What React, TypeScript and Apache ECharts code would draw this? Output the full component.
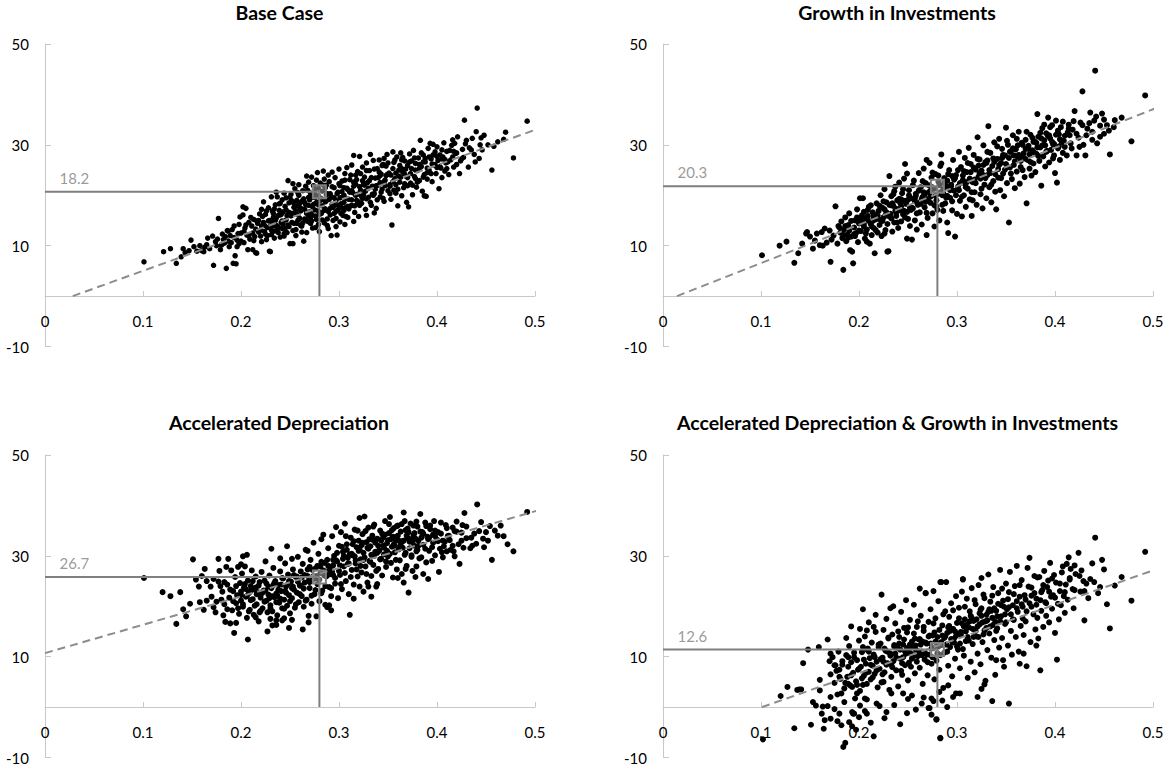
import React, { useEffect, useRef } from "react";
import * as echarts from "echarts";

const xTicks = [0, 0.1, 0.2, 0.3, 0.4, 0.5];
const yTicks = [-10, 10, 30, 50];
const titles = [
  "Base Case",
  "Growth in Investments",
  "Accelerated Depreciation",
  "Accelerated Depreciation & Growth in Investments",
];
const refX = 0.28;
const refLevels = [20.7, 21.8, 25.8, 11.4];
const refLabels = ["18.2", "20.3", "26.7", "12.6"];
const trendBase = [[0.0283, 0], [0.509, 33.6]];
const trendGrowth = [[0.0143, 0], [0.523, 38.8]];
const trendAccel = [[0, 10.7], [0.526, 40.3]];
const trendBoth = [[0.101, 0], [0.5235, 28.7]];

const baseCase = [
  [0.101,6.8],[0.121,8.8],[0.128,9.4],[0.134,6.5],[0.139,7.8],[0.141,9.4],[0.143,8.6],[0.149,11.1],[0.147,9.0],
  [0.152,9.8],[0.155,8.9],[0.158,10.0],[0.160,9.0],[0.162,8.8],[0.165,10.2],[0.168,9.4],[0.166,11.5],[0.163,9.7],
  [0.172,6.1],[0.174,10.8],[0.177,15.4],[0.179,9.2],[0.171,11.9],[0.175,10.0],[0.181,12.3],[0.183,10.5],[0.185,5.5],[0.186,13.0],[0.189,12.0],[0.188,9.8],[0.182,11.2],[0.187,10.9],
  [0.192,6.5],[0.194,8.0],[0.195,6.4],[0.196,9.8],[0.191,13.2],[0.193,11.6],[0.197,12.4],[0.199,15.7],[0.200,10.9],[0.202,16.1],[0.202,17.7],[0.205,17.4],[0.207,9.2],[0.204,13.5],[0.206,12.1],[0.208,14.6],[0.209,11.3],[0.198,10.4],[0.203,12.8],
  [0.212,9.2],[0.215,8.6],[0.216,8.5],[0.211,13.9],[0.213,15.2],[0.214,11.8],[0.217,14.4],[0.218,12.7],[0.219,16.3],[0.220,13.1],[0.221,10.8],[0.222,15.8],[0.223,18.7],[0.224,14.0],[0.225,12.3],[0.226,16.9],[0.227,13.6],[0.228,17.5],[0.229,8.9],[0.230,8.8],[0.229,15.0],[0.212,12.5],[0.216,14.9],[0.221,17.2],[0.226,11.2],
  [0.231,19.7],[0.232,14.7],[0.233,16.4],[0.234,12.9],[0.235,18.1],[0.236,15.5],[0.237,19.7],[0.238,13.8],[0.239,17.0],[0.240,11.7],[0.241,16.2],[0.242,19.1],[0.243,14.3],[0.244,20.4],[0.245,17.8],[0.246,15.1],[0.247,12.6],[0.248,22.9],[0.249,18.5],[0.250,10.4],[0.231,12.2],[0.234,17.3],[0.238,16.0],[0.242,13.4],[0.246,19.5],[0.249,16.6],[0.236,20.6],[0.240,18.4],[0.244,11.9],[0.233,14.0],
  [0.251,20.2],[0.252,14.6],[0.253,10.4],[0.254,17.6],[0.255,21.3],[0.256,13.2],[0.257,19.0],[0.258,16.1],[0.259,22.1],[0.260,15.4],[0.261,18.6],[0.262,12.7],[0.263,20.9],[0.264,10.9],[0.265,17.2],[0.266,21.8],[0.267,23.8],[0.268,14.8],[0.269,19.6],[0.270,16.7],[0.252,18.9],[0.255,16.5],[0.258,20.5],[0.261,14.0],[0.264,19.3],[0.267,12.6],[0.269,22.6],[0.253,22.3],[0.256,12.0],[0.262,17.3],[0.266,15.2],[0.259,18.0],
  [0.271,20.4],[0.272,23.6],[0.273,13.5],[0.274,18.2],[0.275,21.1],[0.276,15.9],[0.277,23.0],[0.278,17.0],[0.279,19.9],[0.280,12.8],[0.281,22.4],[0.282,16.4],[0.283,20.8],[0.284,24.8],[0.285,14.5],[0.286,18.7],[0.287,22.0],[0.288,15.3],[0.289,24.0],[0.290,19.2],[0.272,16.2],[0.276,19.6],[0.279,14.2],[0.283,17.9],[0.286,21.5],[0.289,13.4],[0.274,21.9],[0.278,24.5],[0.281,19.0],[0.285,23.2],[0.288,20.3],[0.271,14.4],
  [0.292,12.0],[0.298,12.1],[0.291,17.4],[0.293,21.7],[0.294,15.0],[0.295,19.5],[0.296,23.5],[0.297,16.8],[0.299,20.6],[0.300,25.2],[0.301,14.7],[0.302,18.3],[0.303,22.8],[0.304,16.0],[0.305,20.0],[0.306,24.3],[0.307,17.6],[0.308,21.4],[0.309,15.6],[0.310,19.2],[0.293,24.6],[0.297,13.8],[0.301,21.9],[0.305,17.0],[0.308,25.5],[0.295,18.1],[0.303,19.6],[0.306,14.2],
  [0.311,23.1],[0.312,17.9],[0.313,26.0],[0.314,20.5],[0.315,27.9],[0.316,16.6],[0.317,22.2],[0.318,19.0],[0.319,24.7],[0.320,15.8],[0.321,27.7],[0.322,21.0],[0.323,18.4],[0.324,25.6],[0.325,20.1],[0.326,23.6],[0.327,17.2],[0.328,26.4],[0.329,22.5],[0.330,19.6],[0.313,20.9],[0.317,24.0],[0.320,18.7],[0.324,22.9],[0.328,16.0],[0.315,14.8],
  [0.332,28.1],[0.331,24.9],[0.333,18.0],[0.334,21.8],[0.335,26.9],[0.336,20.3],[0.337,23.4],[0.338,17.4],[0.339,25.3],[0.340,22.0],[0.341,27.0],[0.342,19.7],[0.343,24.2],[0.344,21.2],[0.345,26.1],[0.346,18.8],[0.347,23.0],[0.348,25.8],[0.349,28.1],[0.350,20.9],[0.336,16.5],[0.342,23.9],[0.346,27.3],
  [0.354,14.1],[0.355,28.6],[0.351,24.4],[0.352,22.1],[0.353,19.2],[0.356,26.5],[0.357,23.3],[0.358,20.4],[0.359,27.6],[0.360,17.9],[0.361,25.0],[0.362,22.6],[0.363,28.4],[0.364,19.9],[0.365,24.6],[0.366,21.5],[0.367,26.8],[0.368,23.8],[0.369,18.6],[0.370,25.9],[0.371,17.7],[0.356,21.0],[0.364,27.0],
  [0.372,28.2],[0.373,22.4],[0.374,25.3],[0.375,20.1],[0.376,28.9],[0.377,23.7],[0.378,26.3],[0.379,21.6],[0.380,24.9],[0.381,27.4],[0.382,22.9],[0.383,30.9],[0.384,25.7],[0.385,20.8],[0.386,28.0],[0.387,24.1],[0.388,26.6],[0.389,19.8],[0.390,23.2],[0.387,19.9],
  [0.391,29.3],[0.392,25.0],[0.393,30.3],[0.394,27.2],[0.395,22.7],[0.396,30.1],[0.397,26.0],[0.398,28.6],[0.399,24.3],[0.400,29.6],[0.401,26.9],[0.402,21.3],[0.403,28.0],[0.404,25.4],[0.405,23.5],[0.406,27.6],[0.407,30.4],[0.408,24.8],[0.409,26.4],[0.410,28.7],
  [0.412,24.1],[0.414,27.0],[0.415,29.9],[0.417,25.6],[0.419,28.3],[0.421,31.6],[0.423,24.3],[0.424,26.8],[0.426,29.1],[0.428,34.9],[0.427,27.5],[0.429,30.2],[0.416,31.0],[0.420,26.1],
  [0.432,25.6],[0.433,29.4],[0.436,31.3],[0.438,28.1],[0.441,37.3],[0.443,27.3],[0.444,30.0],[0.446,29.0],[0.448,31.9],[0.440,32.6],
  [0.456,25.0],[0.452,30.0],[0.458,29.7],[0.462,30.6],[0.468,31.1],[0.478,27.4],[0.492,34.7],[0.470,32.5],
  [0.176,11.3],[0.180,10.1],[0.184,11.8],[0.187,12.9],[0.190,10.6],[0.193,13.9],[0.196,11.1],[0.198,14.2],
  [0.200,12.5],[0.203,10.6],[0.205,14.1],[0.208,12.0],[0.210,15.6],[0.213,11.0],[0.215,13.3],[0.218,15.0],[0.220,11.9],[0.223,14.6],[0.225,16.2],[0.227,12.0],[0.230,13.9],[0.232,16.9],[0.234,11.5],[0.235,15.0],[0.237,13.2],[0.239,18.3],[0.241,14.6],[0.243,16.7],[0.244,12.4],[0.246,17.1],[0.248,14.1],[0.250,19.6],[0.251,15.9],[0.253,13.0],[0.254,18.4],[0.256,16.9],[0.257,14.4],[0.259,20.0],[0.260,17.5],[0.262,13.9],[0.263,19.0],[0.265,15.3],[0.266,18.1],[0.268,21.0],[0.269,16.0],[0.270,19.1],[0.272,14.9],[0.273,17.7],[0.275,20.5],[0.276,13.6],[0.277,18.6],[0.279,21.4],[0.280,16.2],[0.282,19.4],[0.283,15.1],[0.284,22.0],[0.286,17.3],[0.287,20.1],[0.288,14.0],[0.290,22.7],[0.291,16.1],[0.292,19.8],[0.294,17.6],[0.295,21.5],[0.297,15.4],[0.298,20.3],[0.299,18.0],[0.300,22.3],
  [0.302,16.4],[0.303,20.7],[0.305,18.6],[0.306,23.0],[0.307,15.8],[0.309,21.1],[0.310,17.3],[0.312,24.0],[0.313,19.1],[0.315,21.8],[0.316,17.9],[0.318,23.1],[0.319,20.2],[0.321,18.0],[0.322,24.3],[0.324,19.4],[0.325,22.2],[0.327,20.8],[0.328,24.9],[0.330,21.4],[0.332,18.6],[0.333,23.5],[0.335,20.0],[0.336,25.2],[0.338,21.9],[0.339,19.1],[0.341,24.6],[0.342,22.5],[0.344,25.9],[0.345,19.4],[0.347,21.9],[0.348,23.9],[0.350,26.4],[0.352,20.3],[0.353,24.0],[0.355,22.7],[0.357,27.0],[0.358,24.4],[0.360,21.2],[0.362,25.9],[0.363,23.6],[0.365,27.5],[0.367,22.3],[0.368,25.2],[0.370,23.5],[0.372,26.6],[0.373,24.3],[0.375,22.0],[0.377,27.4],[0.378,25.0],[0.380,22.6],[0.382,26.1],[0.384,28.4],[0.386,23.6],[0.388,27.3],[0.390,25.4],[0.392,27.6],[0.394,24.3],[0.396,28.0],[0.398,26.1],[0.400,27.7],[0.403,25.7],[0.405,29.0],[0.408,27.1],[0.410,25.3],[0.413,28.9],[0.416,27.6],[0.418,30.3],[0.420,28.4],[0.425,27.2],[0.430,30.9],[0.435,29.0],[0.439,26.6],[0.445,31.4],
  [0.221,13.9],[0.224,12.8],[0.228,14.9],[0.231,13.1],[0.233,15.6],[0.236,14.0],[0.238,12.6],[0.240,16.1],[0.242,14.9],[0.245,13.4],[0.247,16.0],[0.249,13.8],[0.252,16.4],[0.254,14.4],[0.256,17.9],[0.258,15.0],[0.261,16.9],[0.263,14.5],[0.265,18.6],[0.267,16.4],[0.269,18.0],[0.271,15.6],[0.273,19.6],[0.275,17.1],[0.277,15.2],[0.279,18.1],[0.281,16.6],[0.283,19.2],[0.285,17.0],[0.287,18.9],[0.289,16.8],[0.291,20.3],[0.293,18.2],[0.295,16.4],[0.297,19.0],[0.299,17.1],[0.301,19.5],[0.303,17.5],[0.305,21.5],[0.307,19.4],[0.309,17.8],[0.311,20.6],[0.313,18.0],[0.315,22.6],[0.317,20.0],[0.319,18.5],[0.321,21.7],[0.323,19.8],[0.326,22.0],[0.328,19.3],[0.331,22.9],[0.334,20.2],[0.337,21.2],[0.340,23.5],[0.343,20.6],[0.346,22.7],[0.349,24.1],[0.352,21.8],[0.355,25.3],[0.358,22.1],[0.361,23.8],[0.364,25.3],[0.367,24.2],[0.370,21.9],[0.374,26.8],[0.378,23.3],[0.382,25.3],[0.386,26.6],[0.390,24.5],[0.395,26.2],[0.400,25.5],[0.405,27.2],[0.411,26.6],[0.417,28.7],
];

const growthInv = [
  [0.101,8.1],[0.119,10.0],[0.126,10.8],[0.134,6.6],[0.138,8.5],[0.142,10.4],[0.146,12.4],[0.147,12.7],[0.150,11.8],[0.153,9.4],[0.155,11.0],[0.157,12.4],[0.160,10.1],[0.162,12.7],[0.165,13.4],[0.163,10.0],[0.167,10.6],[0.170,13.0],[0.171,6.8],[0.172,11.2],[0.174,12.0],[0.176,17.8],[0.178,10.4],[0.179,13.9],
  [0.181,12.6],[0.182,14.8],[0.183,11.5],[0.184,5.2],[0.185,13.3],[0.186,15.6],[0.187,10.9],[0.188,12.2],[0.189,14.1],[0.190,16.4],[0.191,9.1],[0.192,11.8],[0.193,8.8],[0.194,6.5],[0.195,13.6],[0.196,15.0],[0.197,12.5],[0.198,17.2],[0.199,10.7],[0.200,14.4],[0.201,19.4],[0.202,12.9],[0.203,16.0],[0.204,19.4],[0.205,13.8],[0.206,11.4],[0.207,15.4],[0.208,10.8],[0.209,17.1],[0.210,17.7],[0.211,10.4],[0.212,14.3],[0.213,12.1],[0.214,16.6],[0.215,13.5],[0.216,8.5],[0.217,15.2],[0.218,18.4],[0.219,12.6],[0.220,16.9],[0.184,12.0],[0.190,13.0],[0.196,11.9],[0.202,15.1],[0.208,13.2],[0.214,14.9],
  [0.221,14.1],[0.222,20.0],[0.223,11.9],[0.224,17.5],[0.225,15.6],[0.226,21.2],[0.227,13.1],[0.228,18.6],[0.229,8.8],[0.230,8.9],[0.231,23.8],[0.232,16.3],[0.233,19.8],[0.234,12.8],[0.235,17.9],[0.236,14.6],[0.237,21.7],[0.238,15.9],[0.239,19.0],[0.240,13.5],[0.241,22.5],[0.242,17.0],[0.243,14.8],[0.244,20.4],[0.245,16.2],[0.246,23.3],[0.247,26.2],[0.248,18.3],[0.249,24.3],[0.249,11.4],[0.250,15.3],[0.251,21.0],[0.252,13.9],[0.253,19.4],[0.254,11.2],[0.255,17.4],[0.256,22.9],[0.257,15.0],[0.258,20.3],[0.259,13.2],[0.260,18.1],[0.224,14.9],[0.228,16.6],[0.233,18.0],[0.238,17.3],[0.243,19.2],[0.247,15.6],[0.252,17.5],[0.257,18.8],[0.226,12.4],[0.236,20.8],
  [0.261,24.4],[0.262,16.6],[0.263,21.6],[0.264,14.2],[0.265,19.7],[0.266,25.3],[0.267,17.6],[0.268,22.4],[0.269,12.1],[0.269,27.0],[0.270,15.5],[0.271,20.6],[0.272,26.4],[0.273,18.5],[0.274,23.5],[0.275,16.4],[0.276,21.3],[0.277,13.8],[0.278,24.2],[0.279,19.0],[0.280,17.1],[0.281,22.7],[0.282,15.0],[0.283,25.8],[0.284,28.1],[0.284,26.3],[0.285,20.0],[0.286,16.9],[0.287,23.4],[0.288,18.4],[0.289,21.8],[0.290,14.6],[0.291,12.5],[0.292,25.0],[0.293,19.5],[0.294,22.1],[0.295,17.0],[0.296,27.0],[0.297,20.9],[0.298,11.8],[0.299,24.0],[0.300,16.3],[0.264,19.3],[0.268,18.7],[0.273,20.9],[0.277,18.0],[0.281,20.3],[0.286,21.2],[0.290,19.9],[0.295,23.8],
  [0.301,21.7],[0.302,28.6],[0.303,18.9],[0.304,25.6],[0.305,15.8],[0.306,23.0],[0.307,20.0],[0.308,27.4],[0.309,17.7],[0.310,24.6],[0.311,21.3],[0.312,29.4],[0.313,19.2],[0.314,26.2],[0.315,15.9],[0.316,22.6],[0.317,28.0],[0.318,20.6],[0.319,25.1],[0.320,18.1],[0.321,31.5],[0.322,23.7],[0.323,27.1],[0.324,20.2],[0.325,24.9],[0.326,17.4],[0.327,29.9],[0.328,22.1],[0.329,26.6],[0.330,19.4],[0.331,24.0],[0.332,33.7],[0.333,21.6],[0.334,28.4],[0.335,18.6],[0.336,25.8],[0.337,22.8],[0.338,30.5],[0.339,20.7],[0.340,17.2],[0.308,22.3],[0.316,19.0],[0.324,23.3],[0.331,26.9],
  [0.341,27.2],[0.342,23.5],[0.343,31.2],[0.344,21.0],[0.345,26.4],[0.346,29.2],[0.347,24.3],[0.348,19.8],[0.349,27.9],[0.350,33.4],[0.351,22.4],[0.352,30.0],[0.353,14.6],[0.354,25.5],[0.355,28.7],[0.356,23.2],[0.357,31.9],[0.358,26.0],[0.359,21.4],[0.360,29.1],[0.361,24.7],[0.362,27.6],[0.363,32.6],[0.364,22.3],[0.365,26.8],[0.366,30.4],[0.367,25.0],[0.368,28.3],[0.369,23.6],[0.370,31.0],[0.371,18.4],[0.372,27.0],[0.373,29.8],[0.374,25.3],[0.375,32.0],[0.376,23.9],[0.377,28.9],[0.378,26.3],[0.379,30.7],[0.380,24.6],
  [0.382,36.1],[0.381,28.2],[0.383,31.6],[0.384,26.8],[0.385,29.5],[0.386,21.9],[0.387,33.3],[0.388,27.7],[0.389,30.9],[0.390,25.7],[0.391,32.3],[0.392,28.8],[0.393,35.4],[0.394,26.5],[0.395,31.3],[0.396,29.0],[0.397,33.9],[0.398,27.3],[0.399,30.2],[0.400,24.4],[0.401,34.8],[0.402,22.5],[0.403,32.8],[0.404,29.7],[0.405,27.0],[0.406,33.5],[0.407,30.5],[0.408,28.4],[0.410,31.8],[0.412,27.9],[0.414,34.0],[0.415,31.9],[0.417,29.3],[0.418,33.0],[0.420,36.7],[0.422,27.9],
  [0.424,31.4],[0.426,34.4],[0.428,40.6],[0.429,30.0],[0.431,27.9],[0.433,33.2],[0.436,36.4],[0.438,31.0],[0.441,44.7],[0.443,30.3],[0.446,33.8],[0.448,36.2],[0.450,32.2],[0.453,33.9],[0.456,28.1],[0.461,34.9],[0.468,35.4],[0.478,30.7],[0.492,39.8],[0.440,34.8],
  [0.180,13.6],[0.183,12.9],[0.186,13.9],[0.189,11.6],[0.192,14.9],[0.195,12.3],[0.198,15.6],[0.200,13.0],[0.203,14.7],[0.205,16.7],[0.207,12.4],[0.210,14.9],[0.212,18.0],[0.215,15.8],[0.217,13.1],[0.219,16.0],[0.221,17.9],[0.223,15.0],[0.225,18.8],[0.227,16.0],[0.229,14.3],[0.231,18.1],[0.233,15.4],[0.235,20.2],[0.237,16.9],[0.239,14.6],[0.241,19.3],[0.243,17.8],[0.245,21.2],[0.247,18.9],[0.249,16.7],[0.251,20.0],[0.253,17.1],[0.255,22.0],[0.257,19.3],[0.259,16.4],[0.261,20.9],[0.263,18.3],[0.265,22.8],[0.267,20.1],[0.269,16.5],[0.271,22.0],[0.273,19.7],[0.275,24.5],[0.277,21.3],[0.279,17.8],[0.281,23.9],[0.283,20.6],[0.285,18.1],[0.287,22.4],[0.289,19.5],[0.291,24.2],[0.293,21.0],[0.295,18.8],[0.297,23.1],[0.299,20.0],
  [0.301,25.0],[0.303,22.4],[0.305,19.7],[0.307,24.8],[0.309,21.6],[0.311,26.4],[0.313,23.3],[0.315,20.6],[0.317,25.5],[0.319,22.4],[0.321,27.2],[0.323,24.4],[0.325,21.3],[0.327,26.0],[0.329,23.4],[0.331,28.6],[0.333,25.0],[0.335,22.1],[0.337,27.3],[0.339,24.2],[0.341,29.7],[0.343,26.0],[0.345,23.4],[0.347,28.0],[0.349,25.1],[0.351,30.8],[0.353,27.4],[0.355,24.3],[0.357,29.3],[0.359,26.7],[0.361,31.2],[0.363,28.0],[0.365,25.6],[0.367,30.0],[0.369,27.3],[0.371,32.6],[0.373,29.2],[0.375,26.6],[0.377,31.4],[0.379,28.4],[0.381,30.4],[0.383,27.8],[0.385,32.4],[0.387,29.9],[0.389,34.0],[0.391,28.6],[0.393,31.7],[0.395,33.5],[0.397,30.6],[0.399,27.9],[0.401,32.0],[0.403,29.3],[0.405,31.1],[0.408,34.6],[0.410,29.6],[0.413,32.5],[0.416,30.3],[0.419,34.7],[0.422,32.2],[0.425,29.6],[0.428,33.9],[0.432,31.9],[0.435,34.3],[0.438,32.6],[0.442,35.6],[0.446,31.6],[0.450,35.0],[0.455,32.8],[0.460,33.5],
  [0.205,14.3],[0.209,15.9],[0.213,13.8],[0.218,16.1],[0.222,15.1],[0.226,17.2],[0.230,15.9],[0.234,18.4],[0.238,16.6],[0.242,18.5],[0.246,16.9],[0.250,19.1],[0.254,17.5],[0.258,19.9],[0.262,18.6],[0.266,20.6],[0.270,19.2],[0.274,21.7],[0.278,19.9],[0.282,22.0],[0.286,20.4],[0.290,22.9],[0.294,21.8],[0.298,23.4],[0.302,21.0],[0.306,23.9],[0.310,22.6],[0.314,24.6],[0.318,23.1],[0.322,25.9],[0.326,24.1],[0.330,26.4],[0.334,24.4],[0.338,26.6],[0.342,25.2],[0.346,27.4],[0.350,26.2],[0.354,28.6],[0.358,27.9],[0.362,29.9],[0.366,27.4],[0.370,29.2],[0.374,28.1],[0.378,30.6],[0.382,29.5],[0.386,31.3],[0.390,29.9],[0.394,31.9],[0.398,30.1],[0.404,32.1],[0.409,30.8],[0.414,33.2],
];

const accelDep = [
  [0.101,25.6],[0.120,22.8],[0.128,22.0],[0.134,16.5],[0.138,22.8],[0.141,19.4],[0.144,18.0],[0.148,20.5],[0.151,29.3],
  [0.154,25.3],[0.157,23.9],[0.160,26.0],[0.163,27.4],[0.158,20.8],[0.162,19.3],[0.165,21.1],[0.169,23.9],[0.172,19.8],[0.174,18.8],[0.172,25.4],[0.177,24.9],[0.179,24.0],[0.177,29.4],[0.185,27.8],[0.187,29.4],[0.184,16.9],[0.189,16.6],[0.193,14.7],[0.197,27.8],[0.202,29.9],[0.206,30.2],[0.204,27.9],[0.207,13.4],[0.215,17.8],[0.219,18.8],[0.225,28.9],[0.231,31.4],[0.227,15.0],[0.232,16.2],[0.236,17.2],[0.242,17.2],[0.247,31.9],[0.249,15.7],[0.252,29.4],
  [0.181,22.9],[0.183,20.4],[0.186,24.3],[0.188,21.7],[0.191,19.2],[0.192,23.0],[0.194,25.8],[0.195,20.6],[0.196,22.2],[0.198,18.5],[0.199,24.6],[0.200,21.1],[0.201,26.5],[0.202,19.9],[0.203,23.7],[0.205,21.9],[0.206,17.7],[0.207,25.1],[0.208,22.6],[0.209,19.3],[0.210,24.0],[0.211,27.1],[0.212,21.4],[0.213,18.3],[0.214,23.3],[0.215,25.9],[0.216,20.4],[0.217,22.8],[0.218,17.0],[0.219,24.8],[0.220,21.7],[0.221,26.8],[0.222,19.6],[0.223,23.1],[0.224,20.9],
  [0.226,24.5],[0.227,18.8],[0.228,22.3],[0.229,26.1],[0.230,20.2],[0.231,23.6],[0.232,19.0],[0.233,27.6],[0.234,21.8],[0.235,25.0],[0.236,22.5],[0.237,18.2],[0.238,24.2],[0.239,20.7],[0.240,26.9],[0.241,23.0],[0.242,19.6],[0.243,25.5],[0.244,21.3],[0.245,28.5],[0.246,23.9],[0.247,20.1],[0.248,26.3],[0.249,22.2],[0.250,18.6],[0.251,24.9],[0.252,21.6],[0.253,27.3],[0.254,23.3],[0.255,19.7],[0.256,25.8],[0.257,22.7],[0.258,29.8],[0.259,20.8],[0.260,24.1],[0.230,17.5],[0.236,16.3],[0.244,17.6],[0.252,17.3],[0.240,29.5],
  [0.261,26.9],[0.262,22.0],[0.263,15.4],[0.263,28.4],[0.264,19.9],[0.265,24.7],[0.266,31.2],[0.267,21.3],[0.268,26.0],[0.269,18.1],[0.269,16.8],[0.270,23.6],[0.271,29.2],[0.272,20.5],[0.273,25.3],[0.274,32.6],[0.275,22.4],[0.276,27.5],[0.277,18.0],[0.278,24.4],[0.279,30.4],[0.280,21.0],[0.281,26.6],[0.282,33.3],[0.283,23.1],[0.284,34.2],[0.285,28.6],[0.286,20.3],[0.287,25.9],[0.288,19.8],[0.289,31.5],[0.290,23.8],[0.290,20.2],[0.291,27.8],[0.292,22.0],[0.292,19.2],[0.293,33.9],[0.294,26.2],[0.295,30.0],[0.296,24.5],[0.297,35.7],[0.298,28.9],[0.299,21.6],[0.300,32.0],[0.270,27.8],[0.276,25.5],[0.282,28.8],[0.288,26.9],[0.294,29.2],[0.268,31.0],
  [0.301,26.2],[0.302,34.7],[0.303,23.4],[0.304,30.8],[0.305,27.9],[0.306,36.4],[0.307,25.0],[0.308,32.3],[0.309,29.6],[0.310,22.4],[0.311,18.3],[0.312,33.6],[0.313,27.2],[0.314,30.1],[0.315,24.3],[0.316,35.2],[0.317,28.5],[0.318,31.7],[0.319,25.9],[0.320,33.0],[0.321,37.5],[0.321,23.9],[0.322,29.3],[0.323,26.7],[0.324,34.3],[0.325,30.6],[0.326,37.8],[0.327,27.9],[0.328,32.7],[0.329,24.7],[0.330,35.6],[0.330,23.9],[0.331,29.0],[0.332,31.9],[0.333,26.0],[0.334,34.0],[0.335,28.2],[0.336,36.2],[0.337,30.8],[0.338,23.9],[0.339,33.4],[0.339,24.4],[0.340,27.4],[0.315,21.5],[0.325,22.9],[0.333,21.9],
  [0.341,31.1],[0.342,35.0],[0.343,29.4],[0.344,26.1],[0.345,33.6],[0.346,30.3],[0.347,36.9],[0.348,27.8],[0.349,32.5],[0.350,29.9],[0.351,34.5],[0.352,37.7],[0.353,28.6],[0.354,31.8],[0.355,25.7],[0.356,35.5],[0.357,30.7],[0.358,33.1],[0.359,27.3],[0.360,36.0],[0.360,25.6],[0.361,31.3],[0.362,29.1],[0.363,34.8],[0.364,26.4],[0.365,32.9],[0.366,38.6],[0.366,24.7],[0.367,30.2],[0.368,35.1],[0.368,27.4],[0.369,28.0],[0.370,33.5],[0.371,22.7],[0.372,31.5],[0.373,36.4],[0.374,29.8],[0.375,27.0],[0.376,34.1],[0.377,32.0],[0.378,25.8],[0.379,30.9],[0.379,27.9],[0.380,35.8],[0.383,38.3],
  [0.381,33.0],[0.382,29.5],[0.384,29.7],[0.385,34.7],[0.386,26.4],[0.388,36.6],[0.389,28.7],[0.390,33.8],[0.391,25.4],[0.392,31.0],[0.393,35.3],[0.395,29.0],[0.396,32.6],[0.397,36.9],[0.398,30.1],[0.400,33.2],[0.402,26.8],[0.403,31.4],[0.405,30.7],[0.406,29.7],[0.408,32.8],[0.409,36.1],[0.410,30.9],[0.412,34.0],[0.414,31.2],[0.416,35.6],[0.417,30.9],[0.418,29.9],[0.420,36.8],[0.422,32.3],
  [0.423,28.4],[0.425,34.6],[0.427,31.6],[0.428,38.5],[0.430,33.5],[0.434,31.5],[0.436,32.0],[0.438,34.4],[0.441,40.2],[0.443,34.9],[0.447,33.4],[0.452,33.0],[0.448,31.7],[0.450,34.7],[0.456,29.2],[0.459,35.0],[0.462,34.0],[0.468,33.9],[0.472,32.3],[0.478,30.9],[0.492,38.7],
  [0.165,25.0],[0.170,21.9],[0.175,20.9],[0.178,27.0],[0.182,18.2],[0.190,27.1],[0.195,16.7],[0.200,28.3],
  [0.180,21.3],[0.183,24.8],[0.186,19.4],[0.189,23.3],[0.192,21.0],[0.195,24.0],[0.197,19.6],[0.200,22.9],[0.202,20.4],[0.204,24.4],[0.206,22.0],[0.208,19.0],[0.210,23.1],[0.212,25.0],[0.214,20.1],[0.216,22.4],[0.218,24.1],[0.220,19.1],[0.222,22.7],[0.224,25.1],[0.226,21.1],[0.228,23.9],[0.230,19.6],[0.232,22.0],[0.234,24.6],[0.236,20.8],[0.238,23.2],[0.240,21.5],[0.242,25.6],[0.244,19.5],[0.246,22.7],[0.248,24.4],[0.250,21.0],[0.252,23.6],[0.254,26.2],[0.256,20.4],[0.258,24.9],[0.260,22.4],[0.262,25.7],[0.264,23.5],[0.266,21.1],[0.268,27.3],[0.270,24.8],[0.272,22.1],[0.274,26.0],[0.276,23.2],[0.278,28.0],[0.280,25.3],[0.282,22.6],[0.284,27.1],[0.286,24.0],[0.288,29.2],[0.290,26.3],[0.292,23.6],[0.294,28.1],[0.296,25.6],[0.298,30.6],[0.300,27.0],
  [0.302,24.4],[0.304,29.4],[0.306,26.6],[0.308,31.2],[0.310,28.5],[0.312,25.8],[0.314,32.3],[0.316,29.9],[0.318,27.3],[0.320,31.0],[0.322,28.0],[0.324,32.6],[0.326,29.7],[0.328,26.4],[0.330,31.4],[0.332,28.8],[0.334,33.2],[0.336,30.0],[0.338,27.0],[0.340,32.0],[0.342,29.3],[0.344,34.4],[0.346,31.6],[0.348,28.9],[0.350,33.1],[0.352,30.4],[0.354,35.1],[0.356,32.3],[0.358,29.2],[0.360,34.0],[0.362,31.7],[0.364,36.3],[0.366,33.0],[0.368,30.6],[0.370,35.4],[0.372,32.8],[0.374,30.1],[0.376,36.0],[0.378,33.4],[0.380,31.2],[0.383,34.8],[0.386,32.2],[0.389,35.9],[0.392,33.6],[0.395,31.7],[0.398,35.0],[0.401,32.9],[0.404,34.4],[0.407,31.9],[0.410,35.5],[0.413,33.1],[0.416,32.0],[0.420,34.8],[0.425,33.0],[0.430,35.8],[0.435,33.6],[0.440,32.4],[0.445,36.7],[0.454,35.9],[0.465,36.0],
  [0.200,22.2],[0.205,23.4],[0.210,21.2],[0.215,23.7],[0.220,22.3],[0.225,23.1],[0.229,21.6],[0.233,24.2],[0.237,22.1],[0.241,24.3],[0.245,23.0],[0.249,25.0],[0.253,23.9],[0.257,25.9],[0.261,24.1],[0.265,26.2],[0.269,25.0],[0.273,27.2],[0.277,26.0],[0.281,27.9],[0.285,26.1],[0.289,28.0],[0.293,26.9],[0.297,29.1],[0.301,28.1],[0.305,30.0],[0.309,28.4],[0.313,30.4],[0.317,29.1],[0.321,31.3],[0.325,29.2],[0.329,31.6],[0.333,30.2],[0.337,32.6],[0.341,31.0],[0.345,32.0],[0.349,31.0],[0.353,33.3],[0.357,32.0],[0.361,33.0],[0.365,31.6],[0.369,34.0],[0.373,33.3],[0.377,34.5],[0.381,32.0],[0.386,34.4],[0.391,33.3],[0.396,34.2],[0.401,34.7],[0.406,33.0],
  [0.303,31.8],[0.307,33.9],[0.311,30.3],[0.315,32.9],[0.319,35.0],[0.323,32.1],[0.327,34.9],[0.331,33.3],[0.335,35.8],[0.339,30.6],[0.343,33.0],[0.347,34.2],[0.351,36.3],[0.355,33.8],[0.359,35.9],[0.363,32.4],[0.367,36.9],[0.371,34.7],[0.375,32.7],[0.379,36.8],[0.384,33.6],[0.388,31.4],[0.393,36.0],[0.398,33.9],[0.404,36.6],[0.411,33.9],[0.418,34.9],[0.426,36.1],
];

const accelGrowth = [
  [0.102,-6.4],[0.120,2.2],[0.127,4.0],[0.134,-4.2],[0.137,3.4],[0.139,3.5],[0.141,3.5],[0.143,8.7],[0.148,11.4],[0.151,-3.5],[0.153,1.0],[0.156,0.3],[0.159,11.9],[0.160,5.4],[0.160,3.3],[0.162,-1.3],[0.164,-4.3],[0.163,0.1],[0.165,-2.6],[0.168,13.4],[0.168,0.2],[0.170,9.1],[0.171,10.6],[0.171,-2.3],[0.171,2.0],[0.178,-2.8],[0.175,8.3],[0.180,7.4],[0.178,2.5],[0.182,2.7],[0.176,8.3],
  [0.182,-3.6],[0.184,-7.9],[0.186,-7.1],[0.187,13.7],[0.189,9.9],[0.189,4.6],[0.193,4.0],[0.193,-3.8],[0.194,-1.3],[0.193,-1.0],[0.195,-1.3],[0.198,2.7],[0.196,1.7],[0.201,0.3],[0.208,1.5],[0.201,15.5],[0.208,15.2],[0.206,1.7],[0.208,-1.3],[0.204,19.4],[0.204,11.9],[0.208,11.4],[0.204,4.4],[0.215,-5.8],[0.215,15.9],[0.218,0.7],[0.221,0.2],[0.223,22.3],[0.225,5.0],[0.226,-2.2],[0.233,2.7],[0.235,20.0],[0.245,2.7],[0.249,-1.2],[0.254,2.3],[0.264,0.7],[0.271,-0.2],[0.274,1.7],[0.276,1.2],[0.279,-2.4],[0.283,-6.2],[0.285,1.3],[0.291,4.3],[0.296,2.0],[0.299,2.7],[0.303,2.7],[0.272,-0.2],
  [0.171,6.5],[0.173,9.9],[0.175,4.8],[0.177,7.2],[0.179,11.0],[0.181,5.6],[0.183,8.4],[0.185,3.7],[0.187,10.3],[0.188,6.0],[0.190,12.1],[0.191,4.3],[0.192,8.9],[0.194,6.8],[0.195,10.8],[0.197,5.1],[0.198,9.3],[0.199,7.4],[0.200,13.2],[0.201,3.2],[0.202,8.0],[0.203,10.9],[0.205,6.2],[0.206,14.0],[0.207,8.6],[0.208,4.6],[0.209,11.6],[0.210,7.0],[0.211,9.7],[0.212,5.5],[0.213,12.8],[0.214,8.2],[0.215,10.4],[0.216,6.6],[0.217,14.9],[0.218,9.0],[0.219,3.9],[0.220,11.9],[0.180,-1.3],[0.190,-3.0],[0.197,-4.5],[0.206,-0.8],[0.212,-3.1],[0.175,-0.4],[0.185,1.0],[0.200,-2.0],[0.192,16.0],[0.210,16.8],[0.217,18.3],
  [0.221,7.6],[0.222,12.6],[0.223,4.9],[0.224,9.8],[0.225,15.3],[0.226,6.9],[0.227,11.2],[0.228,17.5],[0.229,8.7],[0.230,13.6],[0.231,3.4],[0.232,10.6],[0.233,6.0],[0.234,14.4],[0.235,9.1],[0.236,12.0],[0.237,16.6],[0.238,7.3],[0.239,11.8],[0.240,4.1],[0.241,13.9],[0.242,9.6],[0.243,18.9],[0.244,6.4],[0.245,12.4],[0.246,15.7],[0.247,8.3],[0.248,10.9],[0.249,14.8],[0.250,5.3],[0.251,11.5],[0.252,17.3],[0.253,8.0],[0.254,13.0],[0.255,9.9],[0.256,20.3],[0.257,6.7],[0.258,12.2],[0.259,15.9],[0.260,10.1],[0.228,-1.0],[0.236,0.4],[0.242,-3.4],[0.250,1.6],[0.258,-0.5],[0.232,19.6],[0.248,21.2],
  [0.261,13.4],[0.262,7.8],[0.263,18.1],[0.264,11.0],[0.265,4.6],[0.266,15.1],[0.267,9.4],[0.268,22.6],[0.269,12.6],[0.270,6.3],[0.271,16.9],[0.272,10.4],[0.273,19.4],[0.274,8.6],[0.275,14.2],[0.276,11.7],[0.277,5.5],[0.278,17.6],[0.279,9.2],[0.280,13.9],[0.281,21.0],[0.282,7.4],[0.283,24.8],[0.284,12.3],[0.285,16.2],[0.286,3.8],[0.287,10.8],[0.288,19.0],[0.289,24.8],[0.290,14.7],[0.291,8.2],[0.292,17.9],[0.293,11.9],[0.294,20.6],[0.295,6.1],[0.296,15.5],[0.297,12.8],[0.298,9.6],[0.299,22.0],[0.300,16.7],[0.266,1.9],[0.274,-1.5],[0.282,3.0],[0.290,0.0],[0.262,23.5],[0.276,23.0],[0.279,-2.5],[0.283,-6.1],[0.284,24.8],[0.268,22.6],
  [0.301,11.4],[0.302,19.7],[0.303,7.7],[0.304,14.4],[0.305,22.9],[0.306,25.3],[0.306,25.4],[0.307,10.2],[0.308,17.4],[0.309,13.1],[0.310,21.5],[0.311,5.8],[0.312,15.8],[0.313,19.0],[0.314,9.0],[0.315,23.6],[0.316,12.5],[0.317,17.1],[0.318,6.9],[0.319,20.4],[0.320,14.0],[0.321,10.6],[0.321,2.0],[0.322,24.2],[0.323,16.4],[0.324,8.5],[0.325,19.6],[0.325,25.6],[0.325,3.6],[0.326,12.9],[0.327,22.3],[0.328,15.2],[0.328,4.5],[0.329,5.2],[0.330,18.3],[0.331,11.3],[0.332,26.3],[0.333,14.6],[0.334,20.9],[0.335,9.8],[0.336,17.7],[0.336,1.2],[0.337,23.8],[0.338,13.3],[0.339,6.4],[0.340,19.1],[0.340,9.3],
  [0.341,15.6],[0.342,22.6],[0.343,11.8],[0.344,27.2],[0.345,18.0],[0.346,13.7],[0.347,21.1],[0.347,9.3],[0.348,8.0],[0.349,16.5],[0.350,24.5],[0.351,19.4],[0.352,12.2],[0.353,22.8],[0.353,0.7],[0.354,26.8],[0.355,15.1],[0.356,10.4],[0.357,20.2],[0.358,17.3],[0.359,24.0],[0.360,13.9],[0.361,28.0],[0.362,18.9],[0.363,11.0],[0.364,21.9],[0.364,8.6],[0.365,16.1],[0.366,25.2],[0.367,19.9],[0.368,14.3],[0.368,10.6],[0.369,22.2],[0.370,17.0],[0.371,8.1],[0.372,27.6],[0.374,20.6],[0.374,29.6],[0.375,12.9],[0.376,23.7],[0.378,18.4],[0.379,26.0],[0.380,15.4],
  [0.381,21.5],[0.381,12.2],[0.382,17.7],[0.383,13.6],[0.384,25.8],[0.385,7.3],[0.386,19.1],[0.387,23.2],[0.388,15.9],[0.389,27.0],[0.390,20.8],[0.391,18.1],[0.392,23.8],[0.393,25.1],[0.394,16.8],[0.395,28.6],[0.396,21.9],[0.397,19.5],[0.398,22.2],[0.399,26.2],[0.400,14.7],[0.401,24.7],[0.402,9.4],[0.403,20.5],[0.404,17.4],[0.405,23.0],[0.406,20.2],[0.407,26.7],[0.408,27.9],[0.409,22.0],[0.410,18.7],[0.411,24.3],[0.412,28.4],[0.413,21.3],[0.414,29.7],[0.415,25.3],[0.416,27.4],[0.418,23.4],[0.419,19.6],[0.420,28.1],
  [0.421,26.4],[0.424,30.6],[0.426,22.9],[0.427,27.1],[0.429,25.0],[0.430,17.2],[0.432,24.5],[0.434,21.6],[0.436,25.4],[0.438,28.5],[0.441,33.6],[0.444,22.6],[0.446,23.8],[0.448,29.2],[0.453,20.4],[0.456,15.6],[0.461,24.1],[0.468,25.8],[0.478,21.1],[0.492,30.8],
  [0.180,6.0],[0.183,9.1],[0.186,4.8],[0.189,8.0],[0.192,6.3],[0.195,9.9],[0.198,4.4],[0.200,7.6],[0.203,5.7],[0.205,9.4],[0.207,6.8],[0.210,11.0],[0.212,8.4],[0.214,5.9],[0.216,9.9],[0.218,7.3],[0.220,12.4],[0.222,9.5],[0.224,6.5],[0.226,11.6],[0.228,8.4],[0.230,13.8],[0.232,10.2],[0.234,7.9],[0.236,12.3],[0.238,9.8],[0.240,15.0],[0.242,11.4],[0.244,8.7],[0.246,13.4],[0.248,10.6],[0.250,15.8],[0.252,12.4],[0.254,9.6],[0.256,14.6],[0.258,11.3],[0.260,17.0],[0.262,13.5],[0.264,10.3],[0.266,15.9],[0.268,12.8],[0.270,8.9],[0.272,14.2],[0.274,11.6],[0.276,16.6],[0.278,13.0],[0.280,10.7],[0.282,15.3],[0.284,12.9],[0.286,18.4],[0.288,14.0],[0.290,11.0],[0.292,16.1],[0.294,13.5],[0.296,19.2],[0.298,15.0],[0.300,12.0],
  [0.302,17.6],[0.304,14.9],[0.306,11.5],[0.308,19.9],[0.310,16.3],[0.312,13.2],[0.314,18.1],[0.316,15.5],[0.318,21.2],[0.320,17.4],[0.322,13.9],[0.324,19.3],[0.326,16.8],[0.328,21.6],[0.330,15.7],[0.332,18.9],[0.334,16.0],[0.336,22.1],[0.338,19.6],[0.340,15.1],[0.342,20.5],[0.344,17.0],[0.346,23.5],[0.348,19.9],[0.350,16.8],[0.352,21.4],[0.355,18.4],[0.358,22.4],[0.361,19.6],[0.364,24.2],[0.367,17.6],[0.370,21.3],[0.373,23.9],[0.376,19.9],[0.379,22.6],[0.382,25.7],[0.385,21.2],[0.388,24.2],[0.391,20.6],[0.394,22.9],[0.397,25.5],[0.400,21.7],[0.405,24.5],[0.410,22.8],[0.415,25.6],[0.420,23.2],[0.425,26.0],[0.430,23.0],[0.440,24.8],[0.450,27.3],
  [0.225,9.0],[0.229,11.0],[0.233,8.4],[0.237,10.6],[0.241,12.6],[0.245,9.9],[0.249,11.7],[0.253,10.6],[0.257,13.6],[0.261,11.0],[0.265,13.0],[0.269,10.4],[0.273,12.6],[0.277,14.8],[0.281,12.0],[0.285,14.2],[0.289,12.4],[0.293,15.1],[0.297,13.6],[0.301,14.5],[0.305,16.6],[0.309,15.0],[0.313,17.0],[0.317,13.9],[0.321,16.0],[0.325,18.1],[0.329,17.0],[0.333,19.4],[0.337,16.3],[0.341,18.0],[0.345,20.2],[0.349,18.4],[0.353,19.8],[0.357,17.4],[0.361,21.0],[0.366,20.4],[0.371,19.0],[0.376,22.1],[0.381,20.3],[0.386,22.8],
  [0.243,7.2],[0.247,11.0],[0.251,8.8],[0.255,12.1],[0.259,9.0],[0.263,12.4],[0.267,10.9],[0.271,14.0],[0.275,9.9],[0.279,12.8],[0.283,10.3],[0.287,13.7],[0.291,15.8],[0.295,12.9],[0.299,14.1],[0.303,12.6],[0.307,16.0],[0.311,13.9],[0.315,17.7],[0.319,15.1],[0.323,18.6],[0.327,14.4],[0.331,17.2],[0.335,19.1],[0.339,16.9],
];

const panels = [baseCase, growthInv, accelDep, accelGrowth];
const trends = [trendBase, trendGrowth, trendAccel, trendBoth];

const gridLeft = [45, 663, 45, 663];
const gridTop = [44, 44, 455, 455];
const gridW = 490;
const gridH = 302.5;
const titleX = [279.5, 897, 279, 897.5];
const titleY = [12, 12, 422, 422];
const dotSize = [5.5, 6, 6, 6];
const FONT = "Lato, 'Open Sans', sans-serif";
const AXIS = "#C8C8C8";
const REF = "#7F7F7F";

export default function App() {
  const ref = useRef<HTMLDivElement>(null);
  useEffect(() => {
    if (!ref.current) return;
    const chart = echarts.init(ref.current, undefined, { renderer: "svg" });
    const grid: any[] = [];
    const xAxis: any[] = [];
    const yAxis: any[] = [];
    const series: any[] = [];
    const graphic: any[] = [];
    const yMin = yTicks[0];
    const yMax = yTicks[yTicks.length - 1];
    const zeroOffset = -gridH * (0 - yMin) / (yMax - yMin);
    for (let i = 0; i < 4; i++) {
      grid.push({ left: gridLeft[i], top: gridTop[i], width: gridW, height: gridH, containLabel: false, outerBoundsMode: "none" });
      xAxis.push({
        type: "value", gridIndex: i, min: xTicks[0], max: xTicks[xTicks.length - 1], interval: 0.1,
        position: "bottom", offset: zeroOffset,
        axisLine: { show: true, onZero: false, lineStyle: { color: AXIS, width: 1 } },
        axisTick: { show: true, inside: true, length: 5, lineStyle: { color: AXIS } },
        axisLabel: { color: "#000", fontSize: 15, fontFamily: FONT, margin: 17 },
        splitLine: { show: false },
      });
      yAxis.push({
        type: "value", gridIndex: i, min: yMin, max: yMax,
        axisLine: { show: true, onZero: false, lineStyle: { color: AXIS, width: 1 } },
        axisTick: { show: true, inside: true, length: 6, customValues: yTicks, lineStyle: { color: AXIS } },
        axisLabel: { color: "#000", fontSize: 15, fontFamily: FONT, margin: 16, customValues: yTicks },
        splitLine: { show: false },
      });
      series.push({
        type: "scatter", xAxisIndex: i, yAxisIndex: i, data: panels[i], symbol: "circle",
        symbolSize: dotSize[i], itemStyle: { color: "#000", opacity: 1 }, silent: true, large: false,
      });
      series.push({
        type: "line", xAxisIndex: i, yAxisIndex: i, data: trends[i], symbol: "none", clip: false,
        lineStyle: { color: "#8C8C8C", width: 2, type: [8, 5] }, silent: true,
      });
      series.push({
        type: "line", xAxisIndex: i, yAxisIndex: i,
        data: [[0, refLevels[i]], [refX, refLevels[i]], [refX, 0]], symbol: "none",
        lineStyle: { color: REF, width: 2 }, silent: true,
      });
      series.push({
        type: "scatter", xAxisIndex: i, yAxisIndex: i, data: [[refX, refLevels[i]]], symbol: "rect",
        symbolSize: 13, itemStyle: { color: "rgba(255,255,255,0.35)", borderColor: REF, borderWidth: 2, opacity: 1 }, silent: true,
      });
      series.push({
        type: "scatter", xAxisIndex: i, yAxisIndex: i, data: [[0, refLevels[i]]], symbolSize: 1,
        itemStyle: { color: "rgba(0,0,0,0)" }, silent: true,
        label: { show: true, formatter: refLabels[i], position: [15, -21], color: "#7F7F7F", fontSize: 15, fontFamily: FONT },
      });
      graphic.push({
        type: "text", x: titleX[i], y: titleY[i],
        style: { text: titles[i], textAlign: "center", textVerticalAlign: "middle", fill: "#000", font: `bold 19.5px ${FONT}` },
      });
    }
    chart.setOption({ animation: false, backgroundColor: "#fff", grid, xAxis, yAxis, series, graphic });
    return () => chart.dispose();
  }, []);
  return <div ref={ref} style={{ position: "fixed", left: 0, top: 0, width: 1176, height: 766 }} />;
}
